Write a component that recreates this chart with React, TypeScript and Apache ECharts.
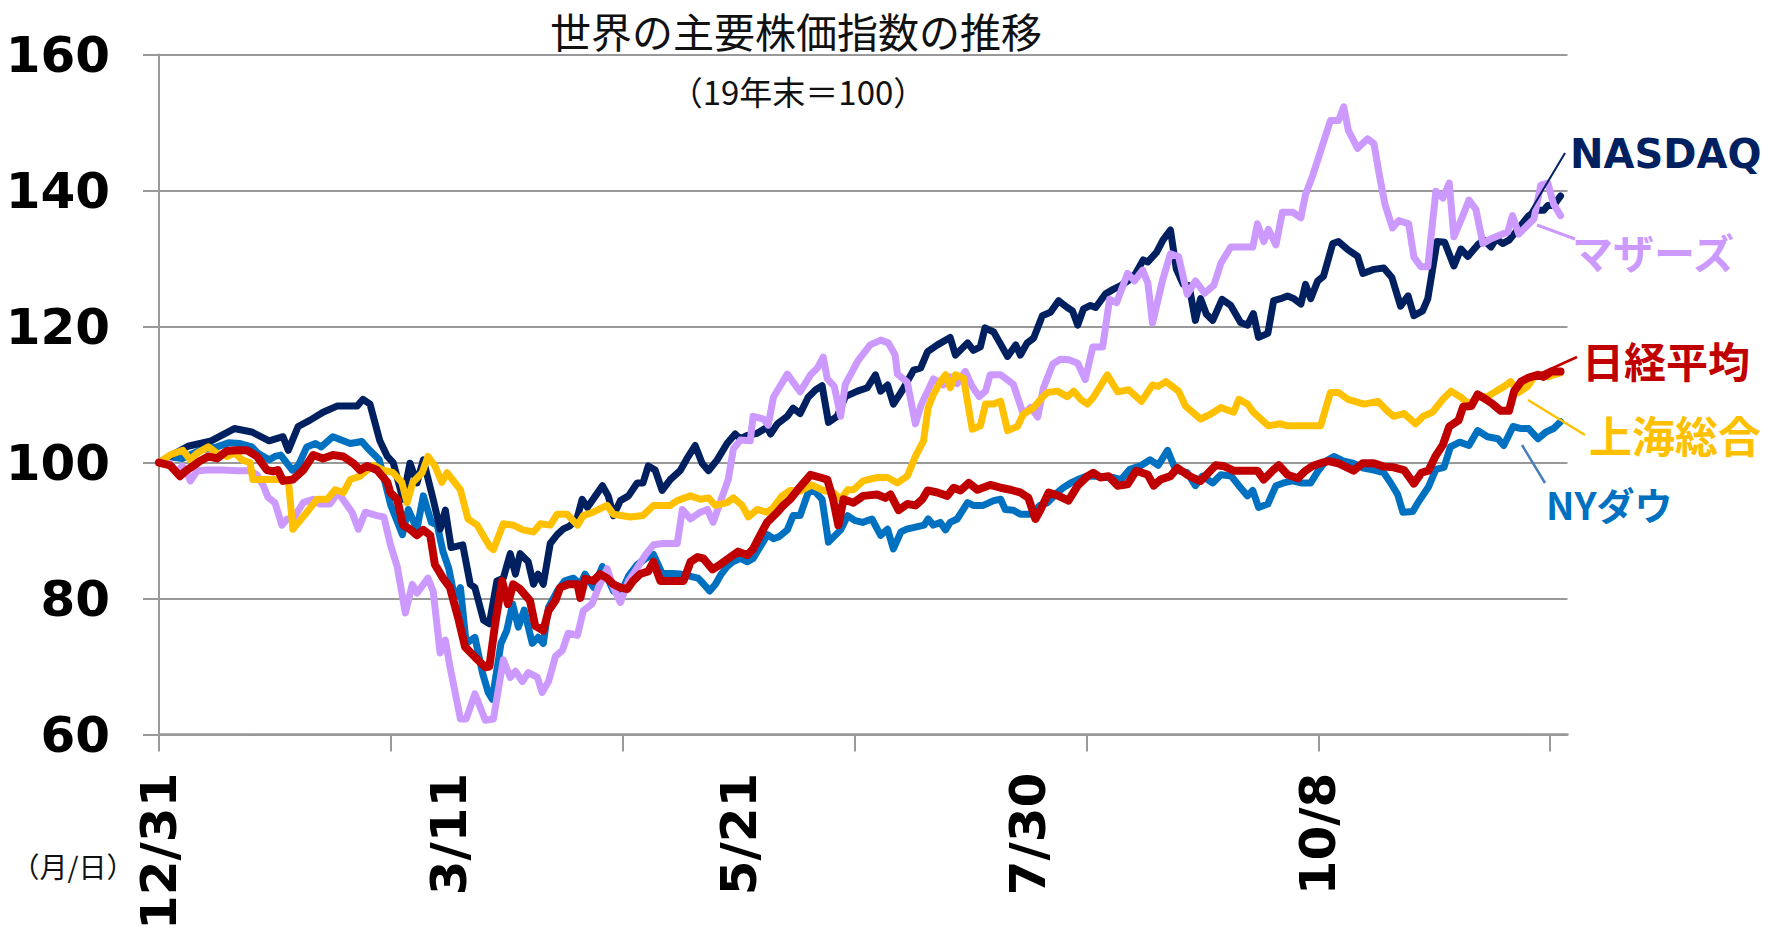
import React, { useEffect, useRef } from "react";
import * as echarts from "echarts";

// ---- text ----
const titleText = "世界の主要株価指数の推移";
const subtitleText = "（19年末＝100）";
const unitText = "（月/日）";

// ---- axes ----
const yMin = 60;
const yMax = 160;
const yStep = 20;
const dateLabels = ["12/31", "3/11", "5/21", "7/30", "10/8"];
const labelEvery = 50;
const tickEvery = 40;
const categoryCount = 244; // trading-day slots on the horizontal axis

// ---- series: [trading-day index, index value (19年末=100)] ----
const nasdaq: number[][] = [
  [0, 100], [2, 101], [5, 102.4], [9, 103.2], [13, 105], [16, 104.5], [19, 103.2], [21.4, 103.8], [22.3, 101.8],
  [24, 105.3], [26, 106.2], [28.3, 107.4], [30.7, 108.3], [34.2, 108.3], [35.2, 109.3], [36.4, 108.6], [38.1, 103.2],
  [39.4, 100.9], [40.4, 100], [42.1, 94.6], [43.3, 99.9], [44.5, 97], [45.6, 100.4], [47.3, 94.6], [48.5, 90.2],
  [49.4, 93], [50.4, 87.5], [52.4, 87.9], [53.7, 82.1], [54.5, 81.6], [56, 76.8], [57, 76.3], [58.3, 82.6], [59.4, 83],
  [60.6, 86.6], [61.5, 83.6], [62.3, 86.6], [63.7, 85.4], [64.6, 82.1], [65.4, 83.6], [66.3, 82.1], [67.5, 88.1],
  [68.7, 89.4], [69.7, 90.2], [70.9, 90.7], [72.1, 91.7], [73, 94.6], [73.9, 93.4], [75.3, 95.1], [76.5, 96.6],
  [77.5, 95.1], [78.4, 92.2], [79.6, 94.4], [81, 95.1], [82.5, 97], [83.5, 97], [84.4, 99.5], [85.6, 98.9], [86.8, 95.9],
  [88.2, 97.5], [89.9, 98.8], [91.1, 100.6], [92.5, 102.5], [93.7, 99.9], [94.8, 98.8], [96.3, 100.4], [98, 102.8],
  [99.4, 104.2], [100.3, 103.5], [101.5, 104], [103.2, 104.3], [104.9, 105.2], [105.5, 104.2], [106.7, 105.7],
  [108.4, 106.8], [109.4, 108], [110.6, 107.2], [112, 109.6], [113.3, 110.7], [114.4, 111.3], [115.5, 105.9],
  [117, 106.8], [118.4, 109.7], [120.5, 110.5], [122.2, 111], [123.6, 112.9], [124.5, 110.5], [125.7, 111.4],
  [126.7, 108.6], [128.3, 110.7], [130.2, 113.6], [131.4, 113.9], [132.6, 116.3], [134.3, 117.3], [136.5, 118.4],
  [137.4, 115.8], [139.5, 117.6], [140.5, 116.5], [141.7, 117], [142.5, 119.8], [144, 119.2], [144.8, 118],
  [146.4, 115.6], [147.8, 117.3], [148.6, 115.8], [149.8, 117.6], [150.9, 118.3], [152.4, 121.6], [153.8, 122.1],
  [155.2, 123.8], [156.7, 122.8], [157.6, 122.3], [158.5, 120.2], [159.5, 122.6], [160.7, 123.1], [161.6, 122.8],
  [163.3, 124.8], [164.7, 125.5], [165.9, 126], [167.3, 126.8], [168.5, 127.8], [169.8, 129.8], [170.6, 129.5],
  [172.1, 130.9], [173.2, 132.7], [174.5, 134.2], [175.5, 128.5], [176.7, 126.2], [177.7, 126], [178.8, 120.9],
  [179.7, 124.1], [180.7, 121.8], [181.8, 120.9], [183.4, 124], [184.9, 123.1], [186.6, 120.6], [187.8, 120.2],
  [188.8, 121.9], [189.7, 118.4], [191.3, 119], [192.3, 123.8], [193.5, 124.1], [194.7, 124.5], [195.8, 124.1],
  [197, 123.3], [197.8, 126.2], [198.7, 124.1], [199.9, 126.7], [200.9, 127.4], [202.5, 132.2], [203.5, 132.5],
  [205.1, 131.3], [206.8, 130.3], [207.7, 127.8], [209.6, 128.4], [211.3, 128.6], [212.7, 127.2], [214.2, 123],
  [215.5, 124.5], [216.5, 121.6], [218, 122.3], [218.9, 124.1], [220.5, 132.5], [221.8, 132.4], [223.4, 128.9],
  [224.6, 131.4], [225.8, 130.3], [227.5, 132], [228.6, 132.7], [229.8, 131.7], [230.7, 132.9], [231.8, 132.2],
  [232.9, 132.7], [233.8, 133.6], [235, 134.9], [236.3, 136.3], [237.9, 137.1], [238.9, 137.1], [239.6, 137.8],
  [240.6, 137.8], [241.8, 139.2],
];

const nyDow: number[][] = [
  [0, 100], [2, 100.8], [4, 100.6], [7, 101.8], [10, 102.3], [12, 102.9], [14, 102.8], [16, 102.3], [17, 101.4],
  [19, 100.4], [20, 100.9], [21, 101.1], [23, 98.9], [24, 99.5], [25.5, 102.3], [27, 102.8], [28, 102.3], [30, 103.8],
  [33, 102.8], [35, 103.1], [36, 102.1], [38, 100.4], [39, 97.1], [40, 93.7], [42, 89.4], [43, 93.1], [44.5, 90.2],
  [45.6, 95.1], [47, 91.2], [48, 90.8], [49, 86.9], [50, 84.4], [51, 80.1], [52, 81.6], [53, 73.4], [54.5, 74.3],
  [55.8, 69.1], [56.8, 66.2], [57.5, 65.2], [59, 73.4], [60, 75.3], [61, 79.2], [62, 75.8], [63, 78.3], [64.4, 73.4],
  [65.4, 74.3], [66.3, 73.4], [67.2, 78.7], [68.7, 81.1], [70, 82.6], [71.5, 83], [72.7, 82.1], [73.5, 83.6],
  [75, 81.6], [76.5, 84.7], [78.4, 81.1], [79.6, 80.6], [81, 83.3], [82.5, 85], [84, 85.9], [85.3, 86.5], [86.8, 83.7],
  [88.6, 83.7], [90, 83.6], [93, 83], [94, 82.1], [95, 81.1], [96, 82.1], [97, 83.6], [98, 84.7], [99, 85.4],
  [100.3, 85.9], [101.5, 85.4], [102.5, 85.9], [103.7, 87.6], [105, 89.4], [106, 88.8], [107, 89.1], [108.4, 90.1],
  [109.4, 92.2], [110.6, 92.2], [112, 95.6], [113, 95.9], [114.4, 94.6], [115.5, 88.3], [117.6, 90.1], [118.8, 92.2],
  [120, 91.5], [121.4, 91.2], [123, 91.7], [124.5, 89.3], [125.7, 90.2], [126.7, 87.3], [128, 89.8], [129, 90.2],
  [132, 90.8], [132.7, 91.7], [133.6, 90.8], [134.8, 91.2], [135.7, 90.1], [136.5, 91.2], [137.7, 91.7], [139.5, 94.1],
  [140.5, 93.7], [142.2, 93.7], [144, 94.4], [145.2, 94.6], [146, 93.1], [147.4, 93], [148.6, 92.4], [150.4, 92.4],
  [152, 93.7], [153.3, 94.1], [155, 95.6], [156, 96.3], [157.3, 97], [158.5, 97.5], [160, 98], [162, 98], [163, 97.8],
  [164.7, 97.8], [166, 97.5], [167.5, 99], [169.3, 99.5], [171, 100.4], [172.4, 99.6], [174, 101.8], [175.4, 98.9],
  [177.4, 98.5], [178.8, 96.6], [180, 98], [181.8, 97], [183.2, 98.2], [185, 98], [186.3, 96.6], [187.8, 95.1],
  [188.7, 95.9], [189.7, 93.4], [191.3, 93.9], [192.7, 96.6], [194, 97], [195.6, 97.3], [197, 97], [198.7, 97],
  [200, 98.8], [201.3, 100.2], [202.7, 100.9], [204.4, 100.2], [206, 99.9], [207.8, 99.2], [209.6, 98.9],
  [211.3, 98.5], [212.5, 97], [213.7, 95.3], [214.6, 92.7], [216.3, 92.8], [217.2, 94.1], [219, 96.4], [220.3, 99],
  [221.7, 99.3], [222.8, 102.3], [224.4, 103], [226, 102.5], [227.5, 104.7], [229.2, 103.8], [231, 103.5],
  [232, 102.5], [233.6, 105.3], [235, 105], [236.3, 105], [237.9, 103.5], [239.3, 104.5], [240.6, 105], [241.8, 106],
];

const nikkei: number[][] = [
  [0, 100], [1.9, 99.6], [3.6, 98], [4.8, 98.9], [5.9, 99.5], [7, 100.2], [8.5, 100.9], [10, 100.6], [11.7, 101.7],
  [13.4, 101.8], [15.2, 101.8], [16.9, 100.9], [18.6, 98.9], [19.7, 98.7], [20.5, 98.9], [21.4, 97.3], [23.1, 97.5],
  [24.9, 98.9], [26.6, 101.1], [28.3, 100.6], [30, 101.1], [31.8, 100.9], [33.5, 99.9], [34.7, 98.9], [35.9, 99.5],
  [37.6, 98.9], [39.4, 97.1], [39.9, 95.6], [41.1, 94.6], [42.1, 90.8], [43.3, 90.2], [44.5, 89.3], [45.6, 90.1],
  [46.8, 89.3], [47.6, 85], [49, 83], [50.2, 81.6], [51.6, 77.2], [52.8, 72.9], [54.5, 71.4], [56.3, 69.9], [57, 70],
  [58, 76.3], [59.2, 82.6], [60.2, 79.2], [61.1, 82.1], [62.3, 81.4], [64, 79.7], [64.9, 76], [66.3, 75.3],
  [67.2, 78.2], [68.4, 79.7], [69.2, 81.6], [70.6, 82.1], [72.2, 82.1], [72.7, 80.1], [73.5, 82.9], [74.9, 82.6],
  [76.1, 83.6], [77.3, 83], [78.4, 82.1], [79.6, 81.6], [80.8, 81.4], [81.8, 82.6], [83, 83.6], [84.4, 84],
  [85.3, 85.4], [86.5, 82.6], [88.7, 82.6], [90.5, 82.6], [91.7, 85.4], [92.9, 86.1], [93.9, 85.9], [95.5, 84.3],
  [96.8, 85], [98.6, 86.1], [99.9, 86.9], [101.5, 86.4], [102.5, 87.3], [103.7, 89.3], [104.9, 91.2], [106.7, 92.7],
  [107.7, 93.7], [108.9, 94.6], [110.1, 95.9], [111.2, 97], [112.4, 98.2], [114.1, 97.8], [115.3, 97.5], [116.3, 94.6],
  [117.2, 90.8], [118.1, 94.6], [119.8, 94.1], [121.5, 95.1], [123.9, 95.3], [125.3, 94.8], [126.2, 95.3],
  [127.6, 93], [129.1, 93.9], [130.5, 93.7], [131.7, 94.6], [132.6, 95.9], [134.3, 95.6], [136, 95.1], [137.1, 96.3],
  [138.3, 95.9], [139.7, 97], [141.2, 96], [143.4, 96.7], [145.2, 96.3], [146.9, 96], [148.6, 95.6], [150, 94.8],
  [151.2, 91.7], [152.1, 93.1], [153.5, 95.6], [155.2, 95.1], [156.9, 94.4], [158.5, 96.6], [160.2, 98],
  [161.2, 98.5], [162.4, 97.8], [163.8, 98], [165.4, 96.6], [167.1, 96.8], [168.6, 98.8], [170.6, 98.2],
  [171.6, 96.6], [172.8, 97.5], [174.5, 98], [175.7, 99.2], [177.4, 98.2], [178.5, 97.7], [179.7, 97.3],
  [182.3, 99.6], [183.6, 99.5], [185.4, 98.8], [187.1, 98.8], [189.5, 98.8], [190.6, 97.5], [192.1, 98.8],
  [193.2, 99.6], [194.7, 98.2], [196.5, 97.7], [197.8, 98.8], [199, 99.5], [200.4, 99.9], [201.8, 100.2],
  [203.4, 99.9], [204.4, 99.5], [206.1, 98.8], [207.7, 99.9], [209.6, 99.9], [211.3, 99.4], [213, 99.3],
  [214.8, 98.9], [216.5, 96.9], [217.8, 98.5], [219, 98.8], [220.2, 100.9], [221.5, 102.6], [222.6, 105.3],
  [224.2, 106.2], [225, 108.2], [226.4, 108.3], [227.5, 110], [228.9, 109.3], [230.1, 108.6], [231.5, 107.6],
  [232.9, 107.6], [233.8, 110.5], [235, 111.9], [236.3, 112.5], [237.9, 112.9], [238.9, 112.6], [240.2, 113.4],
  [241.8, 113.4],
];

const shanghai: number[][] = [
  [0, 100], [1.9, 101.1], [4.1, 101.8], [5.4, 100.4], [6.6, 101.4], [8.5, 102.3], [10, 101.4], [11.7, 100.9],
  [13.1, 101.4], [14.3, 100.4], [15.7, 100], [16.2, 97.5], [19.2, 97.5], [22.3, 97.5], [23.1, 90.2], [25.5, 92.7],
  [27.3, 94.6], [29, 94.6], [30.4, 96], [31.8, 95.6], [33, 97.5], [34.7, 98], [35.9, 98.9], [37, 99.6], [38.7, 98.9],
  [40.4, 98.5], [41.9, 97.1], [42.8, 94.1], [43.8, 97.1], [45.4, 98.5], [46.4, 100.9], [47.6, 99.5], [48.8, 97.1],
  [49.7, 98.5], [52, 96], [53.3, 91.7], [54.9, 90.8], [55.9, 89.3], [57.1, 87.6], [57.7, 87.2], [59.4, 91],
  [61.1, 90.8], [62.8, 90.1], [64.6, 89.8], [65.8, 91], [67.5, 90.8], [68.7, 92.4], [70.4, 92.4], [72.2, 90.8],
  [73.2, 92.2], [74.9, 92.7], [77.3, 93.7], [78.4, 92.4], [81.3, 92], [83.5, 92.2], [85.3, 93.7], [88.2, 93.7],
  [89.4, 94.4], [91.7, 95.1], [93.4, 94.6], [94.8, 94.8], [96, 93.7], [98, 94.1], [99.1, 94.8], [100.6, 93.7],
  [101.7, 92], [103.2, 93.1], [104.9, 92.7], [106, 93.4], [107.5, 95.1], [108.9, 95.9], [110.6, 95.8], [112.6, 96.7],
  [114.6, 95.9], [116.3, 95.6], [117.6, 94.6], [118.8, 96], [119.8, 96], [121.5, 97.3], [123.9, 97.8], [125.7, 97.8],
  [127.4, 97], [129.1, 98], [130.5, 100.9], [131.9, 103.2], [132.7, 108.1], [133.6, 110], [134.8, 111.9],
  [135.7, 112.9], [136.5, 111], [137.4, 112.9], [138.8, 112.4], [140.3, 104.9], [141.7, 105.4], [142.6, 108.6],
  [144, 108.6], [145.2, 109], [146.4, 104.7], [148.1, 105.3], [149.1, 107.1], [150.9, 108.1], [152.4, 109.6],
  [153.3, 110.3], [155, 110.5], [156.7, 109.7], [157.8, 110.5], [159, 109.3], [160.2, 108.6], [161.2, 109.6],
  [163.6, 112.9], [165.4, 110.4], [167.3, 110.7], [169.5, 109], [171.4, 111.4], [172.4, 111.2], [173.7, 111.9],
  [175.9, 110.5], [177.1, 108.3], [179.7, 106.4], [181.4, 107.1], [183.2, 108.1], [185.4, 107.4], [186.3, 109.3],
  [187.8, 108.6], [188.8, 107.4], [191.4, 105.4], [193.5, 105.7], [194.7, 105.4], [200.4, 105.4], [202.1, 110.3],
  [203.5, 110.3], [205.1, 109.3], [207.9, 108.6], [210.3, 109], [212, 107.5], [213, 106.8], [214.8, 107.2],
  [216.8, 105.7], [218.1, 106.8], [219.7, 107.4], [221.5, 109.3], [222.9, 110.5], [224.6, 109.6], [226, 108.6],
  [227.5, 109.7], [229.2, 109.7], [230.7, 110.5], [232.1, 111.2], [233.2, 111.9], [234.6, 110.3], [236.1, 111.2],
  [237.2, 112.5], [238.4, 112.9], [239.6, 112.6], [240.6, 112.9], [241.8, 113.2],
];

const mothers: number[][] = [
  [0, 100], [1.9, 99.9], [3.1, 98.5], [4, 99.5], [4.8, 98.5], [5.4, 97.3], [6.6, 98.8], [8.3, 98.9], [11, 98.9],
  [13.4, 98.8], [15.7, 98.8], [16.9, 98.2], [18, 96.6], [18.8, 94.9], [20, 94.1], [21.2, 90.8], [22.1, 91.7],
  [23.1, 91.7], [24.9, 94.1], [26.6, 94.6], [27.8, 93.9], [29.5, 93.9], [30.9, 95.6], [33.3, 92.7], [34.4, 90.2],
  [35.6, 92.7], [37.6, 92.2], [38.8, 92], [39.9, 88], [41.1, 84.7], [42.5, 77.9], [43.7, 82.1], [44.5, 80.8],
  [46.4, 83], [47.3, 81.1], [48.5, 72], [49.4, 73.9], [50.2, 70], [52, 62.3], [53, 62.3], [54.5, 66], [56.3, 62.1],
  [57.7, 62.3], [59.4, 71], [60.6, 68.4], [61.5, 69.3], [62.7, 67.8], [63.7, 69.1], [65.3, 68.4], [66.1, 66.2],
  [67.2, 67.8], [68.4, 71.5], [69.6, 72.4], [70.6, 74.9], [72.2, 74.6], [73.2, 78.2], [74.7, 79.2], [75.8, 81.6],
  [77.3, 84.4], [78.4, 81.6], [79.6, 79.4], [81, 82.6], [82.5, 84.5], [83.9, 86.4], [85.3, 87.9], [87, 88.1],
  [89.4, 88.1], [90.3, 93.1], [91.7, 91.7], [93.4, 92.7], [94.6, 93.1], [95.6, 91.2], [96.8, 94.1], [98.2, 97.5],
  [99.1, 102], [100.3, 103.3], [102, 103.2], [102.5, 106.8], [104.3, 106.4], [105.1, 105.5], [106, 109.6],
  [108.4, 113], [110.6, 110.4], [112.4, 112.9], [113.6, 113.9], [114.6, 115.5], [115.3, 112.3], [116.5, 111.2],
  [117.6, 106.8], [118.4, 111.5], [120.6, 115], [122.7, 117.3], [124.5, 118], [125.8, 117.6], [127, 115.8],
  [127.4, 113], [129.1, 111.8], [130.5, 105.7], [131.5, 108.5], [132.6, 110.5], [133.6, 112.3], [135.3, 111.4],
  [136.5, 112.6], [137.7, 111.6], [139.1, 113.4], [140.3, 111.2], [141.5, 109.7], [142.6, 110.5], [143.4, 112.9],
  [145.2, 112.9], [147.4, 111.5], [149.1, 107.1], [150.4, 108.1], [151.6, 106.7], [152.6, 111], [154.2, 114.5],
  [155.5, 115.2], [157, 115.1], [158.5, 114.6], [159.8, 112.2], [161.1, 117], [162.8, 117], [164, 124],
  [165.2, 123.5], [167.1, 127.8], [168.3, 126.7], [169.7, 128.3], [170.6, 126.4], [171.4, 120.5], [173.2, 127],
  [174.5, 130.7], [175.9, 130.3], [177.4, 124.7], [178.8, 126.7], [180.4, 124.9], [182, 126.1], [183.2, 129.3],
  [184.9, 131.7], [186.6, 131.7], [188.7, 131.7], [189.5, 135.1], [190.6, 132.5], [191.4, 134.3], [192.7, 132],
  [193.8, 136.8], [195.6, 136.8], [197, 136], [197.8, 139.4], [199, 142.1], [200.4, 145.8], [202.1, 150.3],
  [203.5, 150.3], [204.4, 152.3], [205.2, 148.8], [206.8, 146.2], [208.5, 147.6], [209.6, 146.9], [210.6, 142],
  [211.5, 138], [212.8, 134.5], [213.9, 135.6], [215.6, 135.1], [216.5, 130.2], [217.7, 128.8], [218.9, 128.8],
  [220.3, 139.9], [221.5, 138.9], [222.6, 141.1], [223.4, 133.2], [224.6, 135.6], [226, 138.6], [227.2, 137.2],
  [228.4, 132.2], [229.8, 132.9], [231.8, 133.6], [232.7, 133.9], [233.5, 136.3], [234.6, 133.6], [236.1, 134.9],
  [237.2, 135.8], [238.4, 140.8], [239.6, 141.1], [240.6, 138], [241.8, 136.3],
];

// ---- series names / colours ----
const seriesNames = ["NYダウ", "NASDAQ", "マザーズ", "上海総合", "日経平均"];
const seriesColors = ["#0070C0", "#002060", "#CC99FF", "#FFC000", "#C00000"];
const seriesData = [nyDow, nasdaq, mothers, shanghai, nikkei];

const GRID_LEFT = 159;
const GRID_TOP = 54.5;
const GRID_RIGHT_X = 1567.5;
const GRID_BOTTOM_Y = 746;
const W = 1781;
const H = 933;

const axisGray = "#999999";
const numFont = "'DejaVu Sans', Verdana, sans-serif";
const jpFont = "'Noto Sans CJK JP', 'Noto Sans', sans-serif";

export default function App() {
  const ref = useRef<HTMLDivElement>(null);

  useEffect(() => {
    if (!ref.current) return;
    const chart = echarts.init(ref.current, undefined, { renderer: "svg" });

    const categories = Array.from({ length: categoryCount }, (_, i) => String(i));

    const endLabels = [
      { text: "NASDAQ", x: 1570, y: 154, color: "#002060", font: `bold 40px ${numFont}`,
        line: [1565, 153, 1528, 215], lineColor: "#002060", lw: 2 },
      { text: "マザーズ", x: 1572, y: 251, color: "#CC99FF", font: `bold 41px ${jpFont}`,
        line: [1537, 225, 1575, 239], lineColor: "#CC99FF", lw: 3 },
      { text: "日経平均", x: 1582, y: 359, color: "#C00000", font: `bold 42px ${jpFont}`,
        line: [1533, 377, 1577, 357], lineColor: "#C00000", lw: 2.5 },
      { text: "上海総合", x: 1589, y: 434, color: "#FFC000", font: `bold 43px ${jpFont}`,
        line: [1528, 400, 1585, 435], lineColor: "#FFC000", lw: 2.5 },
      { text: "NYダウ", x: 1546, y: 503, color: "#0070C0", font: `bold 38px ${jpFont}`,
        line: [1522, 445, 1545, 483], lineColor: "#4a7ebb", lw: 2.5 },
    ];

    const graphics: any[] = [
      {
        type: "text", x: 796, y: 30,
        style: { text: titleText, font: `41px ${jpFont}`, fill: "#111", align: "center", verticalAlign: "middle",
          textAlign: "center", textVerticalAlign: "middle" },
      },
      {
        type: "text", x: 798, y: 91,
        style: { text: subtitleText, font: `33px ${jpFont}`, fill: "#111", align: "center", verticalAlign: "middle",
          textAlign: "center", textVerticalAlign: "middle" },
      },
      {
        type: "text", x: 73, y: 866,
        style: { text: unitText, font: `28px ${jpFont}`, fill: "#111", align: "center", verticalAlign: "middle",
          textAlign: "center", textVerticalAlign: "middle" },
      },
    ];
    endLabels.forEach((l) => {
      graphics.push({
        type: "line", z: 10,
        shape: { x1: l.line[0], y1: l.line[1], x2: l.line[2], y2: l.line[3] },
        style: { stroke: l.lineColor, lineWidth: l.lw },
      });
      graphics.push({
        type: "text", x: l.x, y: l.y, z: 10,
        style: { text: l.text, font: l.font, fill: l.color, align: "left", verticalAlign: "middle",
          textAlign: "left", textVerticalAlign: "middle" },
      });
    });

    const option: any = {
      animation: false,
      backgroundColor: "#ffffff",
      grid: {
        left: GRID_LEFT,
        top: GRID_TOP,
        right: W - GRID_RIGHT_X,
        bottom: H - GRID_BOTTOM_Y,
        containLabel: false,
      },
      xAxis: [
        {
          type: "value",
          min: 0,
          max: categoryCount - 1,
          position: "bottom",
          axisLine: { show: true, onZero: false, lineStyle: { color: axisGray, width: 2.5 } },
          axisTick: { show: false },
          axisLabel: { show: false },
          splitLine: { show: false },
        },
        {
          type: "category",
          data: categories,
          boundaryGap: false,
          position: "bottom",
          axisLine: { show: false, onZero: false },
          axisTick: {
            show: true,
            length: 17,
            interval: (i: number) => i % tickEvery === 0,
            lineStyle: { color: axisGray, width: 2 },
          },
          axisLabel: {
            show: true,
            interval: (i: number) => i % labelEvery === 0,
            rotate: 90,
            margin: 38,
            fontFamily: numFont,
            fontWeight: "bold",
            fontSize: 50,
            color: "#000",
            formatter: (_v: string, i: number) => dateLabels[i / labelEvery] ?? "",
          },
          splitLine: { show: false },
        },
      ],
      yAxis: {
        type: "value",
        min: yMin,
        max: yMax,
        interval: yStep,
        axisLine: { show: true, lineStyle: { color: axisGray, width: 2 } },
        axisTick: { show: true, length: 16, lineStyle: { color: axisGray, width: 2 } },
        axisLabel: {
          margin: 49,
          fontFamily: numFont,
          fontWeight: "bold",
          fontSize: 50,
          color: "#000",
        },
        splitLine: { show: true, lineStyle: { color: axisGray, width: 2 } },
      },
      series: seriesNames.map((name, k) => ({
        name,
        type: "line",
        xAxisIndex: 0,
        yAxisIndex: 0,
        data: seriesData[k],
        showSymbol: false,
        symbol: "none",
        smooth: false,
        z: 2 + k,
        lineStyle: {
          color: seriesColors[k],
          width: name === "日経平均" ? 8 : 7,
          cap: "round",
          join: "round",
        },
        itemStyle: { color: seriesColors[k] },
        emphasis: { disabled: true },
      })),
      graphic: graphics,
    };

    chart.setOption(option);
    return () => chart.dispose();
  }, []);

  return (
    <div
      ref={ref}
      style={{ position: "fixed", left: 0, top: 0, width: W, height: H, background: "#fff" }}
    />
  );
}
